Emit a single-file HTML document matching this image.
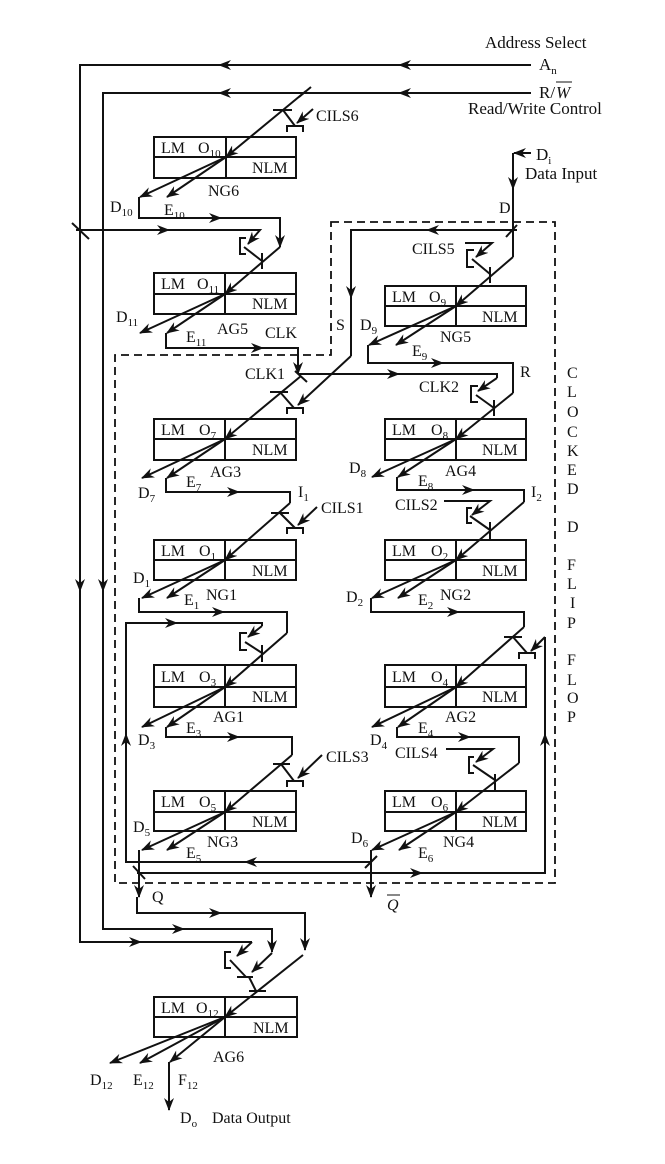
<!DOCTYPE html>
<html><head><meta charset="utf-8"><style>
html,body{margin:0;padding:0;background:#fff;}
svg{display:block;}
text{font-family:"Liberation Serif",serif;font-size:16px;fill:#111;}
tspan{font-size:11px;}
.big{font-size:17px;}
.l{fill:none;stroke:#111;stroke-width:2;}
.a{fill:none;stroke:#111;stroke-width:2;marker-end:url(#ah);}
.d{fill:none;stroke:#111;stroke-width:1.8;stroke-dasharray:8 5;}
.b{fill:none;stroke:#111;stroke-width:2;}
</style></head><body>
<svg width="665" height="1164" viewBox="0 0 665 1164" xmlns="http://www.w3.org/2000/svg">
<defs>
<marker id="ah" markerWidth="13" markerHeight="10" refX="12" refY="5" orient="auto" markerUnits="userSpaceOnUse">
<path d="M0,0 L13,5 L0,10 L4,5 z" fill="#111"/>
</marker>
</defs>

<!-- top labels -->
<text class="big" x="485" y="48">Address Select</text>
<text class="big" x="539" y="70">A<tspan dy="4">n</tspan></text>
<text class="big" x="539" y="98">R/</text><text class="big" x="556" y="98" font-style="italic">W</text>
<line x1="556" y1="82" x2="572" y2="82" stroke="#111" stroke-width="1"/>
<text class="big" x="468" y="114">Read/Write Control</text>
<text class="big" x="536" y="160">D<tspan dy="4">i</tspan></text>
<text class="big" x="525" y="179">Data Input</text>
<text x="499" y="213">D</text>

<!-- An line -->
<polyline class="l" points="531,65 80,65 80,942 252,942"/>
<path class="a" d="M400,65 l-1,0"/><path class="a" d="M220,65 l-1,0"/>
<path class="a" d="M80,590 l0,1"/><path class="a" d="M140,942 l1,0"/>
<!-- R/W line -->
<polyline class="a" points="531,93 103,93 103,929 272,929 272,952"/>
<path class="a" d="M400,93 l-1,0"/><path class="a" d="M220,93 l-1,0"/>
<path class="a" d="M103,590 l0,1"/><path class="a" d="M183,929 l1,0"/>

<!-- NG6 -->
<rect class="b" x="154" y="137" width="142" height="41"/>
<line class="b" x1="226" y1="137" x2="226" y2="178"/><line class="b" x1="154" y1="157" x2="296" y2="157"/>
<text x="161" y="153">LM</text><text x="198" y="153">O<tspan dy="4">10</tspan></text><text x="252" y="173">NLM</text>
<line class="a" x1="306" y1="91" x2="226" y2="157"/>
<line class="l" x1="299" y1="97" x2="311" y2="87"/>
<line class="l" x1="273" y1="110" x2="292" y2="110"/>
<line class="l" x1="283" y1="110" x2="295" y2="126"/>
<path class="b" d="M287,132 V126 H303 V132"/>
<line class="a" x1="313" y1="109" x2="297" y2="123"/>
<text x="316" y="121">CILS6</text>
<line class="a" x1="226" y1="157" x2="140" y2="197"/>
<line class="a" x1="226" y1="157" x2="167" y2="197"/>
<text x="110" y="212">D<tspan dy="4">10</tspan></text>
<text x="164" y="215">E<tspan dy="4">10</tspan></text>
<text x="208" y="196">NG6</text>
<polyline class="a" points="139,197 139,218 280,218 280,247"/>
<path class="a" d="M220,218 l1,0"/>

<!-- AG5 -->
<rect class="b" x="154" y="273" width="142" height="41"/>
<line class="b" x1="225" y1="273" x2="225" y2="314"/><line class="b" x1="154" y1="294" x2="296" y2="294"/>
<text x="161" y="289">LM</text><text x="197" y="289">O<tspan dy="4">11</tspan></text><text x="252" y="309">NLM</text>
<line class="a" x1="280" y1="247" x2="225" y2="294"/>
<line class="l" x1="262" y1="253" x2="262" y2="269"/>
<polyline class="a" points="76,230 260,230 248,244"/>
<path class="a" d="M168,230 l1,0"/>
<line class="l" x1="72" y1="223" x2="89" y2="239"/>
<path class="b" d="M246,238 H240 V254 H246"/>
<line class="l" x1="244" y1="247" x2="262" y2="261"/>
<line class="a" x1="225" y1="294" x2="140" y2="333"/>
<line class="a" x1="225" y1="294" x2="167" y2="333"/>
<text x="116" y="322">D<tspan dy="4">11</tspan></text>
<text x="186" y="342">E<tspan dy="4">11</tspan></text>
<text x="217" y="334">AG5</text>
<text x="265" y="338">CLK</text>
<polyline class="a" points="166,333 166,348 298,348 298,374"/>
<path class="a" d="M262,348 l1,0"/>

<!-- dashed box -->
<polygon class="d" points="331,222 555,222 555,883 115,883 115,355 331,355"/>

<!-- Di -->
<line class="a" x1="531" y1="153" x2="514" y2="153"/>
<line class="l" x1="513" y1="153" x2="513" y2="257"/>
<path class="a" d="M513,188 l0,1"/>
<line class="a" x1="513" y1="257" x2="456" y2="306"/>
<line class="l" x1="490" y1="267" x2="490" y2="283"/>
<path class="b" d="M474,250 H467 V267 H474"/>
<line class="l" x1="472" y1="259" x2="490" y2="274"/>
<polyline class="a" points="465,243 492,243 476,257"/>
<text x="412" y="254">CILS5</text>
<!-- S line -->
<polyline class="l" points="517,230 351,230 351,356"/>
<path class="a" d="M428,230 l-1,0"/><path class="a" d="M351,297 l0,1"/>
<line class="l" x1="506" y1="237" x2="517" y2="225"/>
<line class="a" x1="351" y1="356" x2="298" y2="405"/>
<text x="336" y="330">S</text>

<!-- NG5 -->
<rect class="b" x="385" y="286" width="141" height="40"/>
<line class="b" x1="456" y1="286" x2="456" y2="326"/><line class="b" x1="385" y1="306" x2="526" y2="306"/>
<text x="392" y="302">LM</text><text x="429" y="302">O<tspan dy="4">9</tspan></text><text x="482" y="322">NLM</text>
<line class="a" x1="456" y1="306" x2="369" y2="345"/>
<line class="a" x1="456" y1="306" x2="396" y2="345"/>
<text x="360" y="330">D<tspan dy="4">9</tspan></text>
<text x="412" y="356">E<tspan dy="4">9</tspan></text>
<text x="440" y="342">NG5</text>
<polyline class="l" points="368,345 368,363 513,363 513,393"/>
<path class="a" d="M442,363 l1,0"/>
<text x="520" y="377">R</text>

<!-- CLK1/CLK2 -->
<polyline class="l" points="298,374 497,374 497,378"/>
<path class="a" d="M398,374 l1,0"/>
<line class="a" x1="497" y1="378" x2="478" y2="391"/>
<line class="l" x1="295" y1="371" x2="307" y2="382"/>
<text x="245" y="379">CLK1</text>
<text x="419" y="392">CLK2</text>
<path class="b" d="M478,386 H471 V402 H478"/>
<line class="l" x1="476" y1="395" x2="494" y2="408"/>
<line class="l" x1="494" y1="400" x2="494" y2="416"/>

<!-- AG3 -->
<rect class="b" x="154" y="419" width="142" height="41"/>
<line class="b" x1="225" y1="419" x2="225" y2="460"/><line class="b" x1="154" y1="439" x2="296" y2="439"/>
<text x="161" y="435">LM</text><text x="199" y="435">O<tspan dy="4">7</tspan></text><text x="252" y="455">NLM</text>
<line class="a" x1="301" y1="376" x2="225" y2="439"/>
<line class="l" x1="270" y1="392" x2="288" y2="392"/>
<line class="l" x1="280" y1="392" x2="294" y2="408"/>
<path class="b" d="M287,414 V408 H303 V414"/>
<line class="a" x1="225" y1="439" x2="142" y2="478"/>
<line class="a" x1="225" y1="439" x2="167" y2="478"/>
<text x="138" y="498">D<tspan dy="4">7</tspan></text>
<text x="186" y="487">E<tspan dy="4">7</tspan></text>
<text x="210" y="477">AG3</text>
<polyline class="l" points="166,478 166,492 290,492 290,503"/>
<path class="a" d="M238,492 l1,0"/>
<text x="298" y="497">I<tspan dy="4">1</tspan></text>

<!-- AG4 -->
<rect class="b" x="385" y="419" width="141" height="41"/>
<line class="b" x1="456" y1="419" x2="456" y2="460"/><line class="b" x1="385" y1="439" x2="526" y2="439"/>
<text x="392" y="435">LM</text><text x="431" y="435">O<tspan dy="4">8</tspan></text><text x="482" y="455">NLM</text>
<line class="a" x1="513" y1="393" x2="456" y2="439"/>
<line class="a" x1="456" y1="439" x2="372" y2="477"/>
<line class="a" x1="456" y1="439" x2="398" y2="477"/>
<text x="349" y="473">D<tspan dy="4">8</tspan></text>
<text x="418" y="486">E<tspan dy="4">8</tspan></text>
<text x="445" y="476">AG4</text>
<polyline class="l" points="397,477 397,490 524,490 524,502"/>
<path class="a" d="M473,490 l1,0"/>
<text x="531" y="497">I<tspan dy="4">2</tspan></text>

<!-- NG1 -->
<rect class="b" x="154" y="540" width="142" height="40"/>
<line class="b" x1="225" y1="540" x2="225" y2="580"/><line class="b" x1="154" y1="560" x2="296" y2="560"/>
<text x="161" y="556">LM</text><text x="199" y="556">O<tspan dy="4">1</tspan></text><text x="252" y="576">NLM</text>
<line class="a" x1="290" y1="503" x2="225" y2="560"/>
<line class="l" x1="271" y1="513" x2="289" y2="513"/>
<line class="l" x1="280" y1="513" x2="295" y2="528"/>
<path class="b" d="M287,534 V528 H303 V534"/>
<line class="a" x1="317" y1="507" x2="298" y2="525"/>
<text x="321" y="513">CILS1</text>
<line class="a" x1="225" y1="560" x2="142" y2="598"/>
<line class="a" x1="225" y1="560" x2="167" y2="598"/>
<text x="133" y="583">D<tspan dy="4">1</tspan></text>
<text x="184" y="605">E<tspan dy="4">1</tspan></text>
<text x="206" y="600">NG1</text>
<polyline class="l" points="139,598 139,612 287,612 287,633"/>
<path class="a" d="M223,612 l1,0"/>

<!-- NG2 -->
<rect class="b" x="385" y="540" width="141" height="40"/>
<line class="b" x1="456" y1="540" x2="456" y2="580"/><line class="b" x1="385" y1="560" x2="526" y2="560"/>
<text x="392" y="556">LM</text><text x="431" y="556">O<tspan dy="4">2</tspan></text><text x="482" y="576">NLM</text>
<line class="a" x1="524" y1="502" x2="456" y2="560"/>
<line class="l" x1="490" y1="522" x2="490" y2="539"/>
<polyline class="a" points="444,501 490,501 472,515"/>
<path class="b" d="M472,508 H467 V523 H472"/>
<line class="l" x1="470" y1="516" x2="490" y2="530"/>
<text x="395" y="510">CILS2</text>
<line class="a" x1="456" y1="560" x2="372" y2="598"/>
<line class="a" x1="456" y1="560" x2="398" y2="598"/>
<text x="346" y="602">D<tspan dy="4">2</tspan></text>
<text x="418" y="605">E<tspan dy="4">2</tspan></text>
<text x="440" y="600">NG2</text>
<polyline class="l" points="371,598 371,612 524,612 524,627"/>
<path class="a" d="M458,612 l1,0"/>

<!-- feedback NG4 -> AG1 -->
<polyline class="l" points="371,862 126,862 126,623 262,623 262,626"/>
<path class="a" d="M246,862 l-1,0"/><path class="a" d="M126,735 l0,-1"/><path class="a" d="M176,623 l1,0"/>
<line class="a" x1="262" y1="626" x2="248" y2="637"/>
<path class="b" d="M247,633 H240 V650 H247"/>
<line class="l" x1="245" y1="642" x2="262" y2="653"/>
<line class="l" x1="262" y1="645" x2="262" y2="662"/>

<!-- feedback NG3 -> AG2 -->
<polyline class="l" points="137,873 545,873 545,637"/>
<path class="a" d="M421,873 l1,0"/><path class="a" d="M545,735 l0,-1"/>
<line class="a" x1="545" y1="637" x2="531" y2="651"/>
<line class="l" x1="133" y1="866" x2="145" y2="879"/>

<!-- AG1 -->
<rect class="b" x="154" y="665" width="142" height="42"/>
<line class="b" x1="225" y1="665" x2="225" y2="707"/><line class="b" x1="154" y1="687" x2="296" y2="687"/>
<text x="161" y="682">LM</text><text x="199" y="682">O<tspan dy="4">3</tspan></text><text x="252" y="702">NLM</text>
<line class="a" x1="287" y1="633" x2="225" y2="687"/>
<line class="a" x1="225" y1="687" x2="142" y2="727"/>
<line class="a" x1="225" y1="687" x2="167" y2="727"/>
<text x="138" y="745">D<tspan dy="4">3</tspan></text>
<text x="186" y="733">E<tspan dy="4">3</tspan></text>
<text x="213" y="722">AG1</text>
<polyline class="l" points="166,727 166,737 292,737 292,755"/>
<path class="a" d="M238,737 l1,0"/>

<!-- AG2 -->
<rect class="b" x="385" y="665" width="141" height="42"/>
<line class="b" x1="456" y1="665" x2="456" y2="707"/><line class="b" x1="385" y1="687" x2="526" y2="687"/>
<text x="392" y="682">LM</text><text x="431" y="682">O<tspan dy="4">4</tspan></text><text x="482" y="702">NLM</text>
<line class="a" x1="524" y1="627" x2="456" y2="687"/>
<line class="l" x1="504" y1="637" x2="522" y2="637"/>
<line class="l" x1="513" y1="637" x2="527" y2="653"/>
<path class="b" d="M519,659 V653 H535 V659"/>
<line class="a" x1="456" y1="687" x2="372" y2="727"/>
<line class="a" x1="456" y1="687" x2="398" y2="727"/>
<text x="370" y="745">D<tspan dy="4">4</tspan></text>
<text x="418" y="733">E<tspan dy="4">4</tspan></text>
<text x="445" y="722">AG2</text>
<polyline class="l" points="397,727 397,737 519,737 519,763"/>
<path class="a" d="M469,737 l1,0"/>

<!-- NG3 -->
<rect class="b" x="154" y="791" width="142" height="40"/>
<line class="b" x1="225" y1="791" x2="225" y2="831"/><line class="b" x1="154" y1="812" x2="296" y2="812"/>
<text x="161" y="807">LM</text><text x="199" y="807">O<tspan dy="4">5</tspan></text><text x="252" y="827">NLM</text>
<line class="a" x1="292" y1="755" x2="225" y2="812"/>
<line class="l" x1="273" y1="764" x2="290" y2="764"/>
<line class="l" x1="281" y1="764" x2="294" y2="781"/>
<path class="b" d="M287,787 V781 H303 V787"/>
<line class="a" x1="322" y1="755" x2="298" y2="778"/>
<text x="326" y="762">CILS3</text>
<line class="a" x1="225" y1="812" x2="142" y2="850"/>
<line class="a" x1="225" y1="812" x2="167" y2="850"/>
<text x="133" y="832">D<tspan dy="4">5</tspan></text>
<text x="186" y="858">E<tspan dy="4">5</tspan></text>
<text x="207" y="847">NG3</text>
<polyline class="a" points="139,850 139,897"/>

<!-- NG4 -->
<rect class="b" x="385" y="791" width="141" height="40"/>
<line class="b" x1="456" y1="791" x2="456" y2="831"/><line class="b" x1="385" y1="812" x2="526" y2="812"/>
<text x="392" y="807">LM</text><text x="431" y="807">O<tspan dy="4">6</tspan></text><text x="482" y="827">NLM</text>
<line class="a" x1="519" y1="763" x2="456" y2="812"/>
<line class="l" x1="495" y1="774" x2="495" y2="791"/>
<polyline class="a" points="446,749 493,749 476,762"/>
<path class="b" d="M474,757 H469 V773 H474"/>
<line class="l" x1="473" y1="765" x2="495" y2="780"/>
<text x="395" y="758">CILS4</text>
<line class="a" x1="456" y1="812" x2="372" y2="850"/>
<line class="a" x1="456" y1="812" x2="399" y2="850"/>
<text x="351" y="843">D<tspan dy="4">6</tspan></text>
<text x="418" y="858">E<tspan dy="4">6</tspan></text>
<text x="443" y="847">NG4</text>
<polyline class="a" points="371,850 371,897"/>
<line class="l" x1="365" y1="868" x2="377" y2="856"/>
<text x="387" y="910" font-style="italic">Q</text>
<line x1="387" y1="895" x2="400" y2="895" stroke="#111" stroke-width="1"/>

<!-- CLOCKED D FLIP FLOP -->
<g>
<text x="567" y="378">C</text><text x="567" y="397">L</text><text x="567" y="417">O</text><text x="567" y="437">C</text>
<text x="567" y="456">K</text><text x="567" y="475">E</text><text x="567" y="494">D</text>
<text x="567" y="532">D</text>
<text x="567" y="570">F</text><text x="567" y="589">L</text><text x="570" y="608">I</text><text x="567" y="628">P</text>
<text x="567" y="665">F</text><text x="567" y="685">L</text><text x="567" y="703">O</text><text x="567" y="722">P</text>
</g>

<!-- Q path -->
<text x="152" y="902">Q</text>
<polyline class="a" points="137,897 137,913 305,913 305,950"/>
<path class="a" d="M220,913 l1,0"/>

<!-- AG6 inputs -->
<line class="a" x1="252" y1="942" x2="237" y2="956"/>
<path class="b" d="M231,952 H225 V968 H231"/>
<line class="l" x1="230" y1="960" x2="246" y2="977"/>
<line class="l" x1="237" y1="977" x2="253" y2="977"/>
<line class="a" x1="272" y1="953" x2="252" y2="972"/>
<line class="l" x1="249" y1="977" x2="256" y2="991"/>
<line class="a" x1="303" y1="955" x2="225" y2="1017"/>
<line class="l" x1="249" y1="991" x2="266" y2="991"/>

<!-- AG6 -->
<rect class="b" x="154" y="997" width="143" height="40"/>
<line class="b" x1="225" y1="997" x2="225" y2="1037"/><line class="b" x1="154" y1="1017" x2="297" y2="1017"/>
<text x="161" y="1013">LM</text><text x="196" y="1013">O<tspan dy="4">12</tspan></text><text x="253" y="1033">NLM</text>
<line class="a" x1="225" y1="1017" x2="110" y2="1063"/>
<line class="a" x1="225" y1="1017" x2="140" y2="1063"/>
<line class="a" x1="225" y1="1017" x2="170" y2="1062"/>
<line class="a" x1="169" y1="1062" x2="169" y2="1110"/>
<text x="213" y="1062">AG6</text>
<text x="90" y="1085">D<tspan dy="4">12</tspan></text>
<text x="133" y="1085">E<tspan dy="4">12</tspan></text>
<text x="178" y="1085">F<tspan dy="4">12</tspan></text>
<text x="180" y="1123">D<tspan dy="4">o</tspan></text>
<text x="212" y="1123">Data Output</text>
</svg>
</body></html>
